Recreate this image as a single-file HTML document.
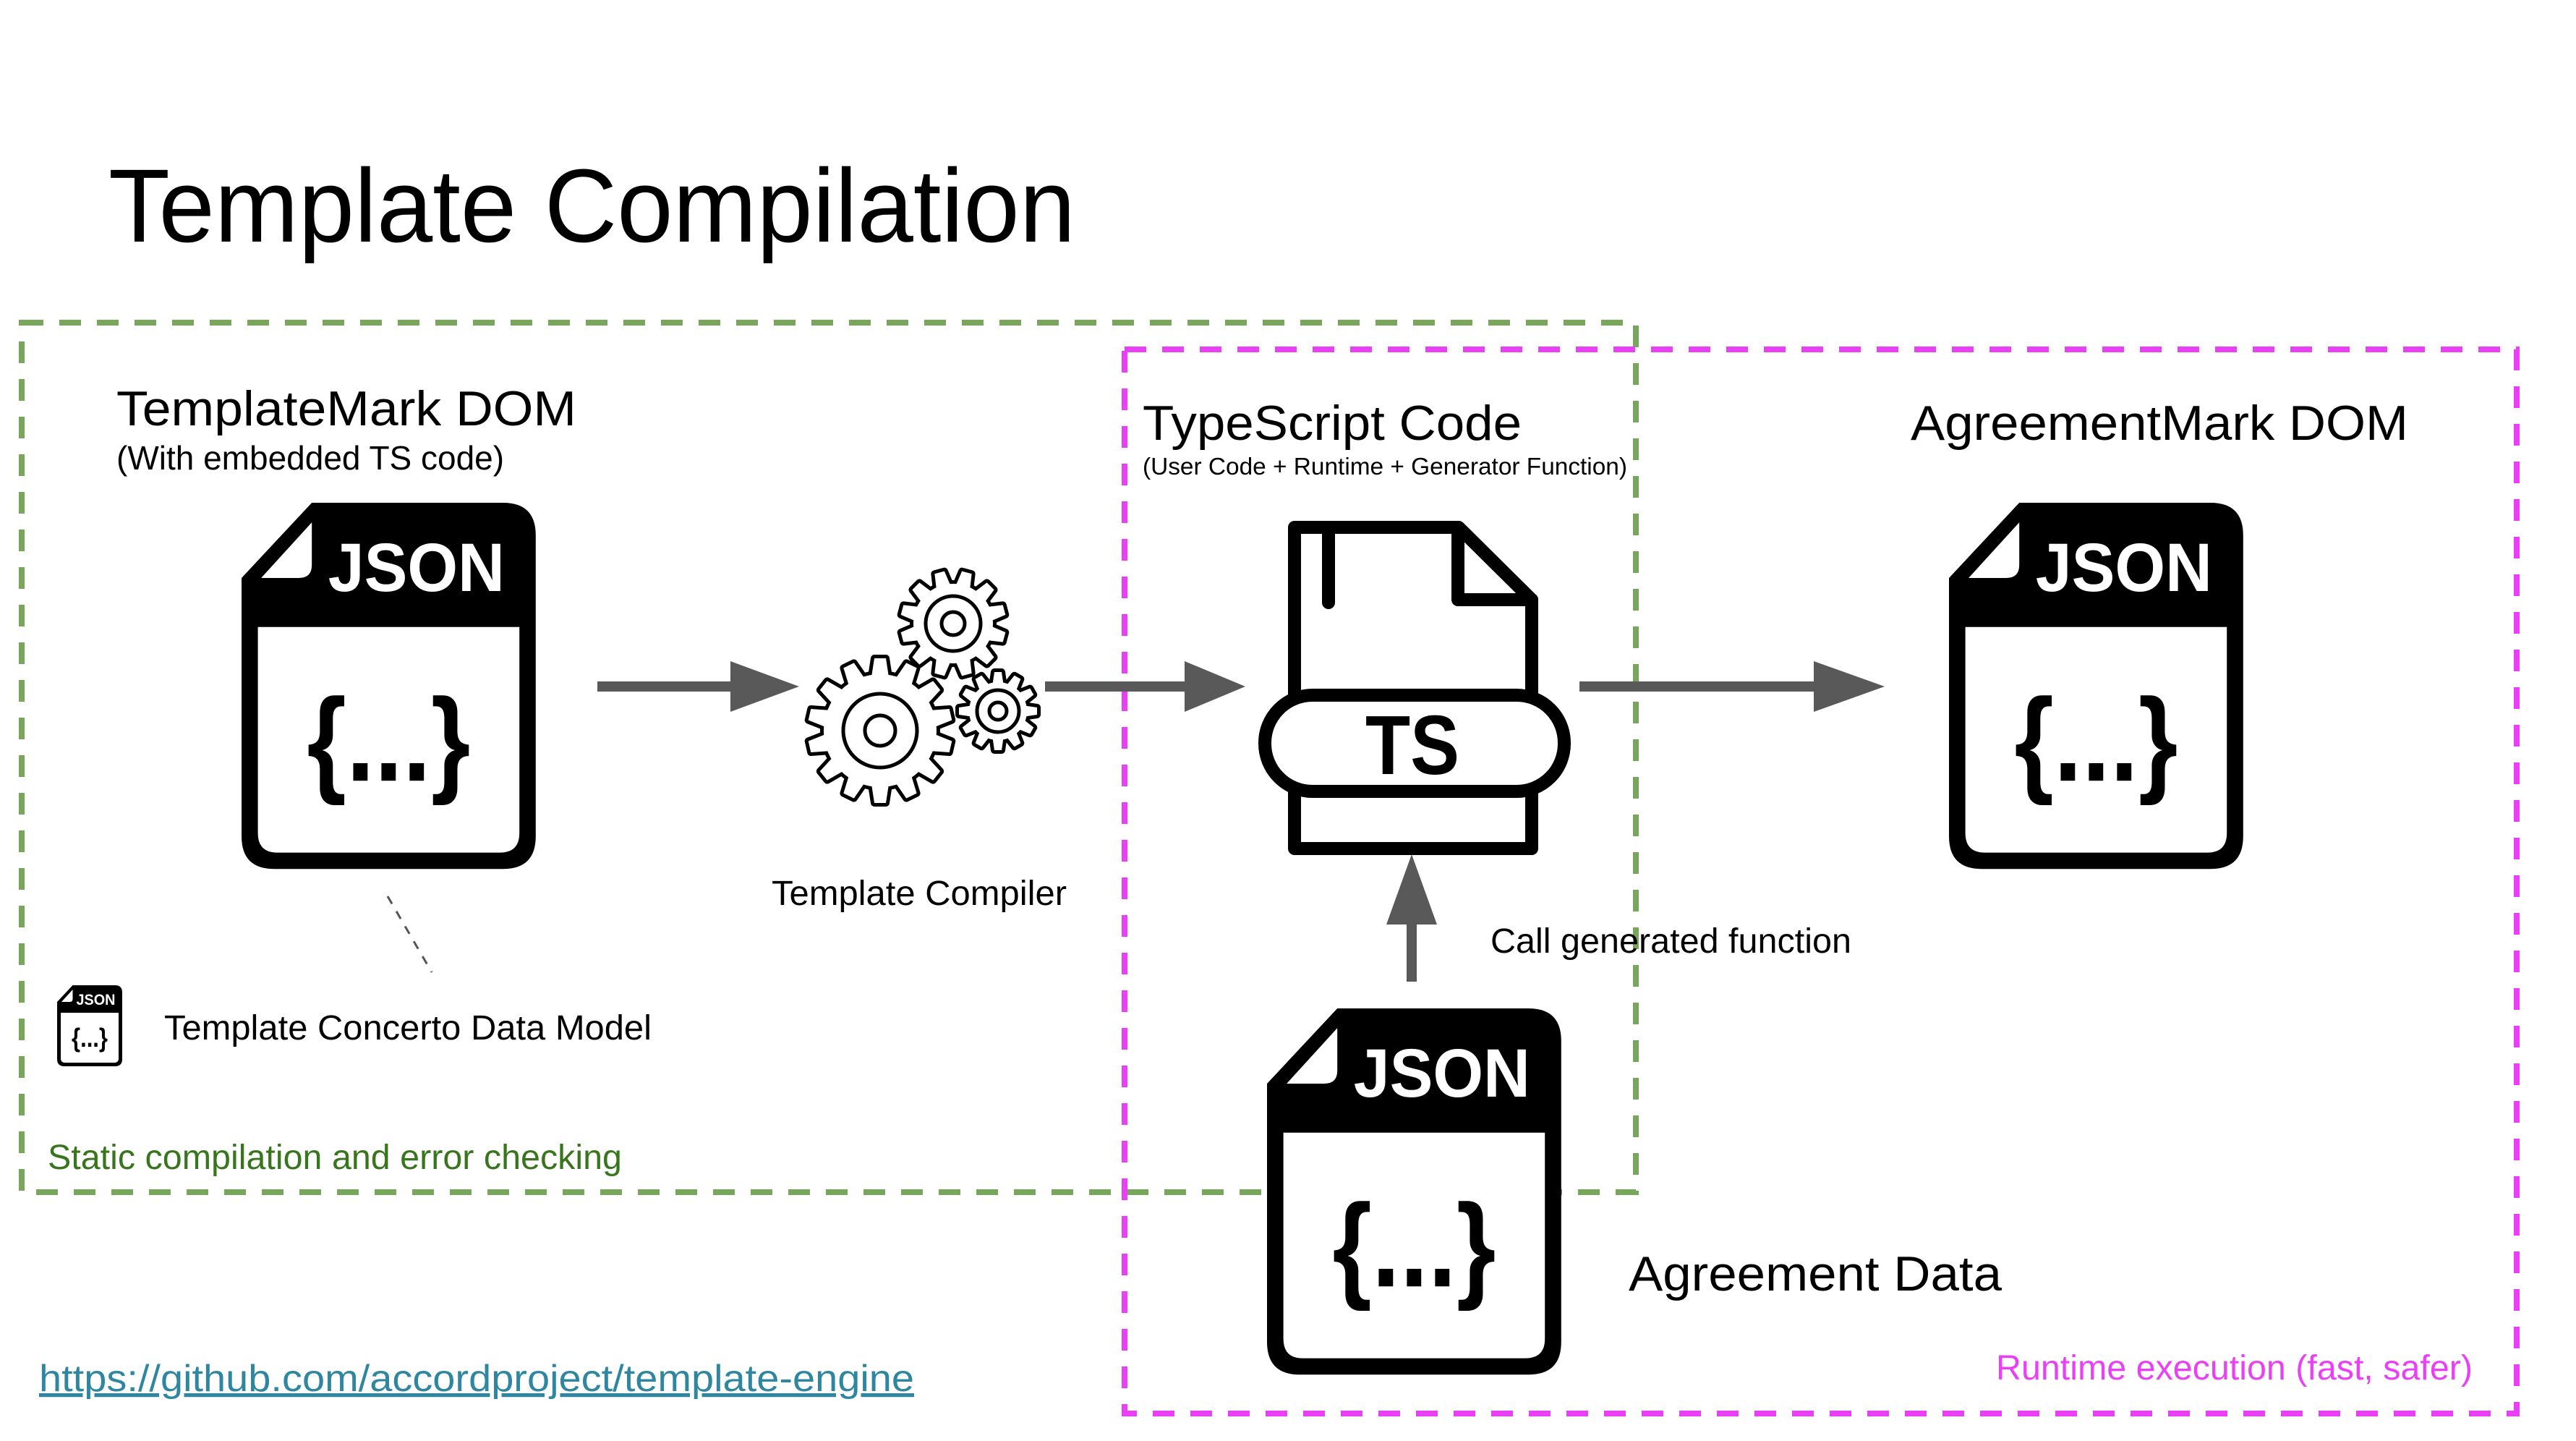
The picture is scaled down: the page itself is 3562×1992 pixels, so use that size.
<!DOCTYPE html>
<html><head><meta charset="utf-8"><style>
html,body{margin:0;padding:0;background:#fff;}
svg{display:block;}
text{font-family:"Liberation Sans",Arial,sans-serif;}
</style></head><body>
<svg width="3562" height="1992" viewBox="0 0 3562 1992" xmlns="http://www.w3.org/2000/svg" xmlns:xlink="http://www.w3.org/1999/xlink">
<defs>
<g id="json">
  <path d="M0,46 L43,0 H160 Q180,0 180,20 V204 Q180,224 160,224 H20 Q0,224 0,204 Z" fill="#000"/>
  <path d="M12,46 L43,12 V38 Q43,46 35,46 Z" fill="#fff"/>
  <path d="M10,76 H170 V202 Q170,214 158,214 H22 Q10,214 10,202 Z" fill="#fff"/>
  <text x="53" y="54" font-size="42" font-weight="bold" fill="#fff" textLength="108" lengthAdjust="spacingAndGlyphs">JSON</text>
  <text x="40" y="170" font-size="72" font-weight="bold" fill="#000" textLength="100" lengthAdjust="spacingAndGlyphs">{...}</text>
</g>
<polygon id="tb" points="-12,-74 -8,-100 8,-100 12,-74"/>
<polygon id="tt" points="-10,-52 -7,-73 7,-73 10,-52"/>
<polygon id="ts" points="-7.5,-37 -5,-54 5,-54 7.5,-37"/>
<g id="gearB">
  <circle cx="0" cy="0" r="78"/>
  <use xlink:href="#tb" transform="rotate(0)"/><use xlink:href="#tb" transform="rotate(25.714)"/>
  <use xlink:href="#tb" transform="rotate(51.429)"/><use xlink:href="#tb" transform="rotate(77.143)"/>
  <use xlink:href="#tb" transform="rotate(102.857)"/><use xlink:href="#tb" transform="rotate(128.571)"/>
  <use xlink:href="#tb" transform="rotate(154.286)"/><use xlink:href="#tb" transform="rotate(180)"/>
  <use xlink:href="#tb" transform="rotate(205.714)"/><use xlink:href="#tb" transform="rotate(231.429)"/>
  <use xlink:href="#tb" transform="rotate(257.143)"/><use xlink:href="#tb" transform="rotate(282.857)"/>
  <use xlink:href="#tb" transform="rotate(308.571)"/><use xlink:href="#tb" transform="rotate(334.286)"/>
</g>
<g id="gearT">
  <circle cx="0" cy="0" r="55"/>
  <use xlink:href="#tt" transform="rotate(15)"/><use xlink:href="#tt" transform="rotate(45)"/>
  <use xlink:href="#tt" transform="rotate(75)"/><use xlink:href="#tt" transform="rotate(105)"/>
  <use xlink:href="#tt" transform="rotate(135)"/><use xlink:href="#tt" transform="rotate(165)"/>
  <use xlink:href="#tt" transform="rotate(195)"/><use xlink:href="#tt" transform="rotate(225)"/>
  <use xlink:href="#tt" transform="rotate(255)"/><use xlink:href="#tt" transform="rotate(285)"/>
  <use xlink:href="#tt" transform="rotate(315)"/><use xlink:href="#tt" transform="rotate(345)"/>
</g>
<g id="gearS">
  <circle cx="0" cy="0" r="40"/>
  <use xlink:href="#ts" transform="rotate(0)"/><use xlink:href="#ts" transform="rotate(30)"/>
  <use xlink:href="#ts" transform="rotate(60)"/><use xlink:href="#ts" transform="rotate(90)"/>
  <use xlink:href="#ts" transform="rotate(120)"/><use xlink:href="#ts" transform="rotate(150)"/>
  <use xlink:href="#ts" transform="rotate(180)"/><use xlink:href="#ts" transform="rotate(210)"/>
  <use xlink:href="#ts" transform="rotate(240)"/><use xlink:href="#ts" transform="rotate(270)"/>
  <use xlink:href="#ts" transform="rotate(300)"/><use xlink:href="#ts" transform="rotate(330)"/>
</g>
</defs>

<!-- dashed boxes -->
<rect x="30" y="446" width="2232" height="1202" fill="none" stroke="#77a65c" stroke-width="8" stroke-dasharray="30 22"/>
<rect x="1555" y="483" width="1925" height="1471" fill="none" stroke="#ea40f5" stroke-width="8" stroke-dasharray="30 22"/>

<!-- title -->
<text x="150" y="334" font-size="144" fill="#000" textLength="1337" lengthAdjust="spacingAndGlyphs">Template  Compilation</text>

<text x="161" y="588" font-size="68" textLength="636" lengthAdjust="spacingAndGlyphs">TemplateMark  DOM</text>
<text x="161" y="649" font-size="46">(With embedded TS code)</text>
<text x="1580" y="608" font-size="68" textLength="524" lengthAdjust="spacingAndGlyphs">TypeScript  Code</text>
<text x="1580" y="656" font-size="33" textLength="670" lengthAdjust="spacingAndGlyphs">(User Code + Runtime + Generator Function)</text>
<text x="2642" y="608" font-size="68" textLength="688" lengthAdjust="spacingAndGlyphs">AgreementMark DOM</text>
<text x="1067" y="1251" font-size="48" textLength="408" lengthAdjust="spacingAndGlyphs">Template Compiler</text>
<text x="2061" y="1317" font-size="48" textLength="499" lengthAdjust="spacingAndGlyphs">Call generated function</text>
<text x="227" y="1437" font-size="48" textLength="674" lengthAdjust="spacingAndGlyphs">Template Concerto Data Model</text>
<text x="66" y="1616" font-size="48" fill="#38761d" textLength="794" lengthAdjust="spacingAndGlyphs">Static compilation and error checking</text>
<text x="2252" y="1784" font-size="68" textLength="516" lengthAdjust="spacingAndGlyphs">Agreement Data</text>
<text x="54" y="1923" font-size="52" fill="#2e86a0" text-decoration="underline" textLength="1210" lengthAdjust="spacingAndGlyphs">https://github.com/accordproject/template-engine</text>
<text x="2760" y="1907" font-size="48" fill="#ea40f5" textLength="659" lengthAdjust="spacingAndGlyphs">Runtime execution (fast, safer)</text>

<!-- JSON icons -->
<use xlink:href="#json" transform="translate(334,695) scale(2.26)"/>
<use xlink:href="#json" transform="translate(2695,695) scale(2.26)"/>
<use xlink:href="#json" transform="translate(1752,1394) scale(2.26)"/>
<use xlink:href="#json" transform="translate(79,1362) scale(0.5)"/>

<!-- dashed connector -->
<line x1="536" y1="1239" x2="597" y2="1344" stroke="#555" stroke-width="3" stroke-dasharray="12 12"/>

<!-- arrows -->
<g fill="#595959">
  <rect x="826" y="942" width="190" height="14"/>
  <polygon points="1010,914 1105,949 1010,984"/>
  <rect x="1445" y="942" width="200" height="14"/>
  <polygon points="1638,914 1722,949 1638,984"/>
  <rect x="2184" y="942" width="330" height="14"/>
  <polygon points="2508,914 2606,949 2508,984"/>
  <rect x="1945" y="1270" width="14" height="87"/>
  <polygon points="1917,1278 1952,1181 1987,1278"/>
</g>

<!-- TS icon -->
<g fill="none" stroke="#000" stroke-width="18" stroke-linejoin="round" stroke-linecap="round">
  <path d="M1790,729 H2017 L2118,829 V1173 H1790 Z" fill="#fff"/>
  <path d="M2016,729 V829 H2118"/>
  <line x1="1837" y1="729" x2="1837" y2="833"/>
  <rect x="1749" y="961" width="414" height="133" rx="66" fill="#fff"/>
</g>
<text x="1953" y="1070" font-size="116" font-weight="bold" text-anchor="middle" textLength="130" lengthAdjust="spacingAndGlyphs">TS</text>

<!-- gears -->
<g transform="translate(1318,862)">
  <use xlink:href="#gearT" fill="#000" stroke="#000" stroke-width="10" stroke-linejoin="round"/>
  <use xlink:href="#gearT" fill="#fff" stroke="none"/>
  <circle r="38" fill="none" stroke="#000" stroke-width="5"/>
  <circle r="16" fill="none" stroke="#000" stroke-width="5"/>
</g>
<g transform="translate(1217,1010)">
  <use xlink:href="#gearB" fill="#000" stroke="#000" stroke-width="10" stroke-linejoin="round"/>
  <use xlink:href="#gearB" fill="#fff" stroke="none"/>
  <circle r="51" fill="none" stroke="#000" stroke-width="5"/>
  <circle r="21" fill="none" stroke="#000" stroke-width="5"/>
</g>
<g transform="translate(1380,983)">
  <use xlink:href="#gearS" fill="#000" stroke="#000" stroke-width="10" stroke-linejoin="round"/>
  <use xlink:href="#gearS" fill="#fff" stroke="none"/>
  <circle r="29" fill="none" stroke="#000" stroke-width="5"/>
  <circle r="12" fill="none" stroke="#000" stroke-width="5"/>
</g>
</svg>
</body></html>
